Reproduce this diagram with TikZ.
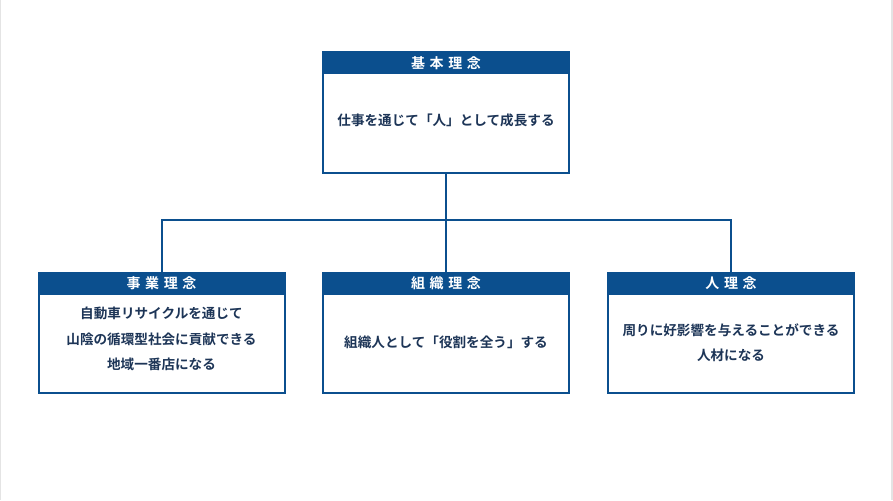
\documentclass[tikz,border=0pt]{standalone}
\usepackage{fontspec}
\setmainfont{Noto Sans CJK JP}[BoldFont={Noto Sans CJK JP Bold}]
\definecolor{hdr}{HTML}{0B4F8E}
\definecolor{txt}{HTML}{1D3557}
\definecolor{edgegray}{HTML}{E4E4E4}
\tikzset{
  boxframe/.style={draw=hdr, line width=2pt, fill=white, minimum width=246pt, minimum height=120pt, inner sep=0pt},
  boxhead/.style={fill=hdr, draw=hdr, line width=2pt, minimum width=246pt, minimum height=21pt, inner sep=0pt, text=white, font=\fontsize{14}{14}\selectfont\bfseries},
  bodytext/.style={text=txt, align=center, inner sep=0pt, font=\fontsize{13.6}{25.5}\selectfont\bfseries},
  conn/.style={draw=hdr, line width=2pt}
}
\begin{document}
\begin{tikzpicture}[x=1pt,y=-1pt]
\useasboundingbox (0,0) rectangle (893,500);
\fill[white] (0,0) rectangle (893,500);
\fill[edgegray] (0,0) rectangle (1,500);
\fill[edgegray] (891,0) rectangle (893,500);
\coordinate (j) at (446,220);
% top box
\node[boxframe] (topbox) at (446,112.5) {};
\node[boxhead, anchor=north] (tophead) at (topbox.north) {基\kern4.6pt本\kern4.6pt理\kern4.6pt念};
\node[bodytext] (toptext) at (446,120) {仕事を通じて「人」として成長する};
% bottom boxes
\node[boxframe] (lbox) at (161.5,332.5) {};
\node[boxhead, anchor=north] (lhead) at (lbox.north) {事\kern4.6pt業\kern4.6pt理\kern4.6pt念};
\node[bodytext] (ltext) at (161.5,339) {自動車リサイクルを通じて\\山陰の循環型社会に貢献できる\\地域一番店になる};
\node[boxframe] (mbox) at (446,332.5) {};
\node[boxhead, anchor=north] (mhead) at (mbox.north) {組\kern4.6pt織\kern4.6pt理\kern4.6pt念};
\node[bodytext] (mtext) at (446,342) {組織人として「役割を全う」する};
\node[boxframe] (rbox) at (731,332.5) {};
\node[boxhead, anchor=north] (rhead) at (rbox.north) {人\kern4.6pt理\kern4.6pt念};
\node[bodytext] (rtext) at (731,342.5) {周りに好影響を与えることができる\\人材になる};
% connectors
\draw[conn] (topbox.south) -- (j);
\draw[conn] (lhead.north) -- (lhead.north |- j) -- (rhead.north |- j) -- (rhead.north);
\draw[conn] (j) -- (mhead.north);
\end{tikzpicture}
\end{document}
